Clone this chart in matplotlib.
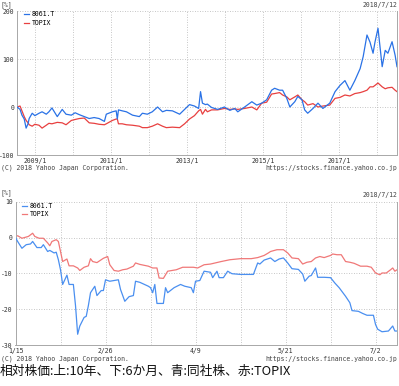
import matplotlib
matplotlib.use("Agg")
import matplotlib.pyplot as plt
import pandas as pd
from matplotlib.lines import Line2D

# ---------------- data: top chart (10 years, relative %) ----------------
top_years = [2008.53, 2008.61, 2008.66, 2008.72, 2008.77, 2008.82, 2008.85, 2008.93, 2009.00,
             2009.11, 2009.19, 2009.30, 2009.37, 2009.45, 2009.59, 2009.72, 2009.82, 2009.96,
             2010.06, 2010.17, 2010.30, 2010.43, 2010.56, 2010.69, 2010.83, 2010.88, 2011.04,
             2011.14, 2011.17, 2011.20, 2011.30, 2011.41, 2011.57, 2011.75, 2011.83, 2011.96,
             2012.09, 2012.23, 2012.36, 2012.46, 2012.62, 2012.81, 2012.94, 2013.07, 2013.20,
             2013.31, 2013.36, 2013.41, 2013.49, 2013.54, 2013.65, 2013.81, 2013.99, 2014.13,
             2014.26, 2014.34, 2014.52, 2014.71, 2014.84, 2014.97, 2015.10, 2015.23, 2015.31,
             2015.44, 2015.52, 2015.63, 2015.71, 2015.84, 2015.92, 2016.03, 2016.10, 2016.18,
             2016.32, 2016.45, 2016.58, 2016.76, 2016.90, 2017.03, 2017.16, 2017.29, 2017.42,
             2017.56, 2017.64, 2017.74, 2017.82, 2017.90, 2017.95, 2018.03, 2018.14, 2018.22,
             2018.29, 2018.40, 2018.48, 2018.53]
top_8061 = [0, -5, -17, -25, -44, -35, -24, -13, -18,
            -13, -10, -15, -10, -2, -20, -5, -15, -17,
            -12, -16, -20, -24, -22, -24, -30, -15, -10,
            -8, -25, -6, -8, -10, -17, -20, -13, -15,
            -10, 0, -10, -7, -8, -15, -5, 5, 2,
            -3, 32, 8, 5, 6, -1, -5, 0, -7,
            -3, -10, 0, 11, 4, 8, 15, 35, 39,
            35, 35, 18, 0, 11, 22, 15, -6, -13,
            -3, 8, -3, 8, 32, 45, 55, 35, 55,
            80, 105, 150, 135, 112, 135, 164, 84, 118,
            112, 136, 108, 84]
top_topix = [0, 2, -8, -20, -28, -33, -37, -40, -36,
             -38, -44, -38, -34, -35, -32, -33, -37, -28,
             -26, -24, -23, -33, -34, -36, -37, -35, -28,
             -25, -25, -35, -35, -37, -38, -40, -43, -43,
             -40, -35, -40, -43, -42, -43, -35, -25, -18,
             -8, -5, -15, -5, -10, -6, -6, -3, -5,
             -4, -5, -3, 0, -6, 8, 10, 27, 28,
             30, 25, 21, 15, 21, 25, 15, 11, 4,
             7, 0, 2, 4, 18, 20, 25, 23, 28,
             30, 32, 35, 42, 42, 45, 50, 42, 38,
             40, 41, 35, 32]
top_year_labels = ["2009/1", "2011/1", "2013/1", "2015/1", "2017/1"]
top_label_years = [2009, 2011, 2013, 2015, 2017]
top_grid_years = [2009, 2010, 2011, 2012, 2013, 2014, 2015, 2016, 2017, 2018]

# ---------------- data: bottom chart (6 months, relative %) ----------------
start_date = "2018-01-15"
bot_days_8061 = [0, 1, 3, 5, 7, 8, 10, 12, 13, 15, 16, 18, 19, 20, 21, 22, 23, 24, 25, 27,
                 28, 29, 30, 32, 33, 34, 35, 37, 38, 40, 41, 42, 44, 48, 49, 51, 53, 55, 56,
                 58, 62, 63, 64, 65, 66, 69, 70, 71, 74, 77, 79, 82, 83, 84, 86, 88, 91, 92,
                 94, 95, 97, 99, 101, 105, 111, 113, 114, 116, 119, 121, 123, 125, 127, 129,
                 132, 134, 135, 137, 138, 140, 141, 144, 147, 149, 151, 154, 156, 157, 160,
                 162, 164, 167, 168, 169, 171, 174, 176, 177, 178]
bot_8061 = [0, -1.1, -3, -2, -1.8, -1.1, -2.8, -2.8, -2, -3.9, -3.6, -4.3, -4.1, -6.2, -9,
            -13.1, -11.8, -10.5, -13.1, -13.1, -19, -27, -24.7, -22.3, -22, -19, -15.4, -13.6,
            -16.2, -14.8, -14.8, -11.8, -12.2, -11.8, -14.5, -17.8, -16.5, -16.2, -12.2,
            -12.5, -13.6, -14, -15.4, -13.1, -18.4, -18.4, -14, -15.4, -14, -13.1, -13.6,
            -14, -15.4, -12.2, -12, -9.4, -9.7, -11.2, -9.4, -11.2, -11.2, -9.4, -10.1,
            -10.3, -10.3, -7.1, -7.4, -6.3, -5.7, -6.7, -6, -5.7, -7.1, -8.7, -8.9, -10.2,
            -12.2, -10.8, -10.6, -8.5, -11.1, -11.1, -11.2, -12.7, -14, -16.4, -18.2, -20.4,
            -20.6, -21.2, -21.7, -21.7, -24.3, -25.6, -26.3, -26.1, -24.7, -26.1, -26.1]
bot_days_topix = [0, 1, 3, 6, 8, 9, 11, 13, 15, 16, 17, 19, 20, 21, 22, 24, 25, 27, 29, 30,
                  32, 34, 35, 36, 38, 40, 41, 43, 44, 46, 48, 50, 52, 55, 56, 58, 62, 64, 66,
                  67, 69, 71, 73, 75, 78, 83, 85, 88, 91, 96, 100, 105, 110, 113, 116, 118,
                  119, 122, 125, 127, 129, 132, 134, 136, 138, 140, 142, 144, 147, 148, 150,
                  152, 154, 156, 158, 161, 164, 166, 168, 170, 171, 173, 175, 176, 177, 178]
bot_topix = [0.3, 0.5, -0.2, 0.3, 1.2, 0.3, -0.2, -0.2, -1.5, -2.3, -1.1, -0.6, -1.1, -3.9,
             -6.7, -6.0, -7.9, -7.9, -8.5, -9.2, -8.3, -7.9, -5.9, -6.7, -7, -6.2, -5.8, -5.3,
             -7.6, -9.2, -9.4, -9, -8.8, -8, -7.1, -7.5, -8, -8.5, -8.5, -11.3, -11.4, -9.4,
             -9.2, -9, -8.3, -8.3, -8.5, -7.6, -7.4, -6.7, -6.2, -5.9, -5.9, -5.6, -5, -4.3,
             -3.9, -3.4, -3.4, -4.3, -5.7, -5.9, -7.4, -6.9, -6.7, -5.7, -5.3, -5.6, -5,
             -4.6, -4.8, -4.8, -6.7, -6.9, -7.2, -8, -8, -8.3, -9.9, -10.4, -9.9, -9.9, -9,
             -8.5, -9.4, -9]
bot_labels = ["1/15", "2/26", "4/9", "5/21", "7/2"]
bot_label_dates = ["2018-01-15", "2018-02-26", "2018-04-09", "2018-05-21", "2018-07-02"]
end_date = "2018-07-12"

series_names = ["8061.T", "TOPIX"]
date_text = "2018/7/12"
copyright_text = "(C) 2018 Yahoo Japan Corporation."
url_text = "https://stocks.finance.yahoo.co.jp"
unit_text = "[%]"
caption = "相対株価:上:10年、下:6か月、青:同社株、赤:TOPIX"

# ---------------- drawing ----------------
W, H = 399, 386
fig = plt.figure(figsize=(W / 100, H / 100), dpi=100)
fig.patch.set_facecolor("white")

mono = "DejaVu Sans Mono"
fs = 4.7
grid_kw = dict(color="#b4b4b4", linewidth=0.6, linestyle=(0, (1, 2)))
spine_col = "#a8a8a8"


def fx(px):
    return px / W


def fy(py):
    return 1 - py / H


def style_axes(ax):
    for s in ["top"]:
        ax.spines[s].set_visible(False)
    for s in ["left", "right", "bottom"]:
        ax.spines[s].set_color(spine_col)
        ax.spines[s].set_linewidth(0.7)
    ax.tick_params(length=0, labelsize=fs, pad=2, colors="#333333")
    for lab in ax.get_xticklabels() + ax.get_yticklabels():
        lab.set_family(mono)


# top chart
ax1 = fig.add_axes([fx(17), fy(155), fx(380), 144 / H])
c_blue1, c_red1 = "#2a72e6", "#e84040"
l1, = ax1.plot(top_years, top_8061, color=c_blue1, lw=0.9, zorder=3)
l2, = ax1.plot(top_years, top_topix, color=c_red1, lw=0.9, zorder=2)
ax1.set_xlim(2008.53, 2018.53)
ax1.set_ylim(-100, 200)
ax1.set_yticks([-100, 0, 100, 200])
ax1.set_yticklabels(["-100", "0", "100", "200"])
ax1.set_xticks(top_label_years)
ax1.set_xticklabels(top_year_labels)
for g in top_grid_years:
    ax1.axvline(g, **grid_kw, zorder=1)
for v in [0, 100, 200]:
    ax1.axhline(v, **grid_kw, zorder=1)
style_axes(ax1)
ax1.legend([Line2D([0], [0], color=c_blue1, lw=0.9), Line2D([0], [0], color=c_red1, lw=0.9)],
           series_names, loc="upper left", bbox_to_anchor=(fx(24), fy(11.5)),
           bbox_transform=fig.transFigure, frameon=False, borderpad=0, borderaxespad=0,
           handlelength=0.7, handletextpad=0.5, labelspacing=0.45,
           prop={"family": mono, "size": fs})

# bottom chart
base = pd.Timestamp(start_date)
bx1 = base + pd.to_timedelta(bot_days_8061, unit="D")
bx2 = base + pd.to_timedelta(bot_days_topix, unit="D")
ax2 = fig.add_axes([fx(15.5), fy(345), fx(381.5), 143.3 / H])
c_blue2, c_red2 = "#4a8ff0", "#f07878"
ax2.plot(bx1, bot_8061, color=c_blue2, lw=0.9, zorder=3)
ax2.plot(bx2, bot_topix, color=c_red2, lw=0.9, zorder=2)
ax2.set_xlim(base, pd.Timestamp(end_date))
ax2.set_ylim(-30, 10)
ax2.set_yticks([-30, -20, -10, 0, 10])
ax2.set_yticklabels(["-30", "-20", "-10", "0", "10"])
ax2.set_xticks(pd.to_datetime(bot_label_dates))
ax2.set_xticklabels(bot_labels)
for d in pd.date_range(start_date, end_date, freq="21D")[1:]:
    ax2.axvline(d, **grid_kw, zorder=1)
for v in [-20, -10, 0, 10]:
    ax2.axhline(v, **grid_kw, zorder=1)
style_axes(ax2)
ax2.legend([Line2D([0], [0], color=c_blue2, lw=0.9), Line2D([0], [0], color=c_red2, lw=0.9)],
           series_names, loc="upper left", bbox_to_anchor=(fx(22), fy(203)),
           bbox_transform=fig.transFigure, frameon=False, borderpad=0, borderaxespad=0,
           handlelength=0.7, handletextpad=0.5, labelspacing=0.35,
           prop={"family": mono, "size": fs})

# texts
tkw = dict(family=mono, fontsize=fs, color="#444444", va="center")
fig.text(fx(1), fy(5), unit_text, ha="left", **tkw)
fig.text(fx(397), fy(5), date_text, ha="right", **tkw)
fig.text(fx(1), fy(168), copyright_text, ha="left", **tkw)
fig.text(fx(397), fy(168), url_text, ha="right", **tkw)
fig.text(fx(1), fy(193), unit_text, ha="left", **tkw)
fig.text(fx(397), fy(195), date_text, ha="right", **tkw)
fig.text(fx(1), fy(358.5), copyright_text, ha="left", **tkw)
fig.text(fx(397), fy(358.5), url_text, ha="right", **tkw)
fig.text(fx(0), fy(371), caption, ha="left", va="center", fontsize=9.2,
         family=["Noto Sans CJK JP", "DejaVu Sans"], color="#111111")

fig.savefig("out.png", dpi=100, facecolor="white")
